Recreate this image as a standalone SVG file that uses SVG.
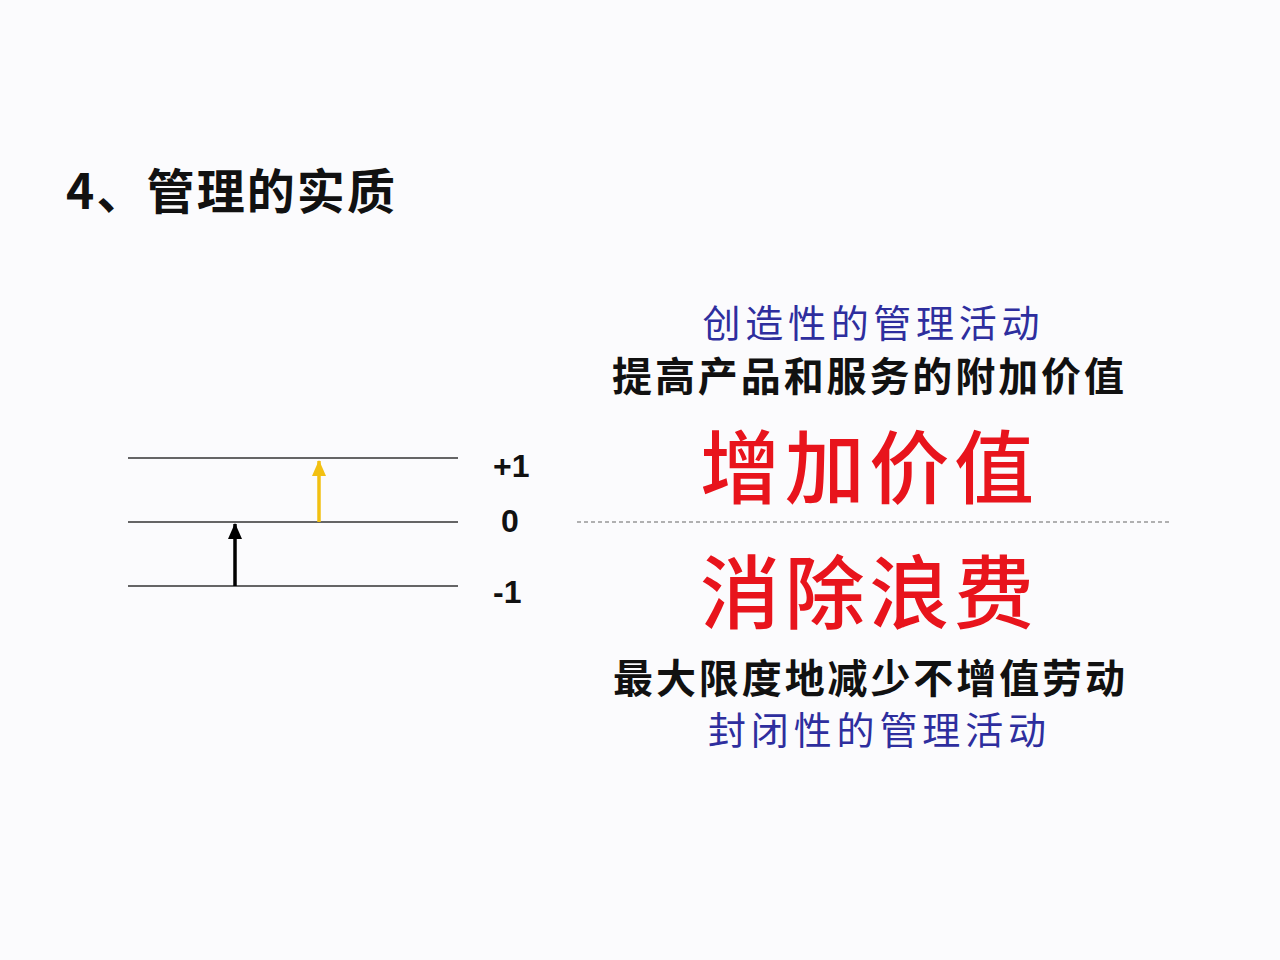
<svg xmlns="http://www.w3.org/2000/svg" width="1280" height="960" viewBox="0 0 1280 960">
<defs>
<style>
.cjk{font-family:"Noto Sans CJK SC","Liberation Sans",sans-serif}
.lat{font-family:"Liberation Sans",Arial,sans-serif;font-weight:bold;font-size:32px;fill:#111}
.blue{fill:#2e2e9e;font-size:38px}
.blk{fill:#111;font-size:40px;font-weight:bold}
.red{fill:#e8141c;font-size:80px;font-weight:500}
.lvl{stroke:#333;stroke-width:1.4}
</style>
<marker id="ahK" markerWidth="16" markerHeight="14" refX="15" refY="7" orient="auto" markerUnits="userSpaceOnUse" viewBox="0 0 16 14"><path d="M0,0 L16,7 L0,14 Z" fill="#000"/></marker>
<marker id="ahY" markerWidth="16" markerHeight="14" refX="15" refY="7" orient="auto" markerUnits="userSpaceOnUse" viewBox="0 0 16 14"><path d="M0,0 L16,7 L0,14 Z" fill="#f2c012"/></marker>
</defs>
<rect width="1280" height="960" fill="#fbfbfd"/>
<g id="title"><text x="66" y="209" class="cjk" font-size="48" font-weight="bold" fill="#111" textLength="329" lengthAdjust="spacing">4、管理的实质</text></g>
<g id="levels">
<line class="lvl" x1="128" y1="458" x2="458" y2="458"/>
<line class="lvl" x1="128" y1="522" x2="458" y2="522"/>
<line class="lvl" x1="128" y1="586" x2="458" y2="586"/>
<text x="493" y="477" class="lat">+1</text>
<text x="501" y="532" class="lat">0</text>
<text x="493" y="603" class="lat">-1</text>
</g>
<g id="connectors">
<line x1="235" y1="586" x2="235" y2="524" stroke="#000" stroke-width="3.5" marker-end="url(#ahK)"/>
<line x1="319" y1="522" x2="319" y2="461" stroke="#f2c012" stroke-width="3.5" marker-end="url(#ahY)"/>
<line x1="577" y1="522" x2="1170" y2="522" stroke="#666" stroke-width="1.2" stroke-dasharray="4,3"/>
</g>
<g id="upper">
<text x="871" y="337" class="cjk blue" text-anchor="middle" textLength="337" lengthAdjust="spacing">创造性的管理活动</text>
<text x="868" y="391" class="cjk blk" text-anchor="middle" textLength="512" lengthAdjust="spacing">提高产品和服务的附加价值</text>
<text x="867" y="497" class="cjk red" text-anchor="middle" textLength="334" lengthAdjust="spacing">增加价值</text>
</g>
<g id="lower">
<text x="867" y="622" class="cjk red" text-anchor="middle" textLength="334" lengthAdjust="spacing">消除浪费</text>
<text x="869" y="693" class="cjk blk" text-anchor="middle" textLength="512" lengthAdjust="spacing">最大限度地减少不增值劳动</text>
<text x="877" y="744" class="cjk blue" text-anchor="middle" textLength="338" lengthAdjust="spacing">封闭性的管理活动</text>
</g>
</svg>
